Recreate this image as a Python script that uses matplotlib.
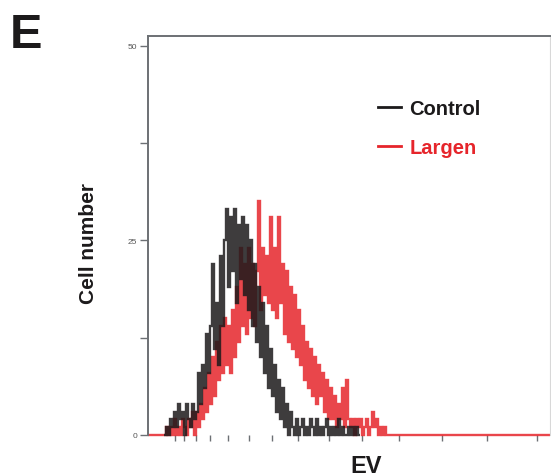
import numpy as np
import matplotlib
matplotlib.use("Agg")
import matplotlib.pyplot as plt
from matplotlib.lines import Line2D

plt.rcParams['font.family'] = ['Liberation Sans', 'DejaVu Sans']

# histogram channels (x in display channel units), bin width 2
bin_start = 164
bin_width = 2
x_min, x_max = 148, 550

control = [0, 1, 0, 2, 1, 3, 1, 4, 2, 3, 0, 4, 2, 1, 4, 2, 3,
           8, 4, 9, 6, 13, 8, 14,
           22, 11, 17, 9, 23, 14, 25,
           29, 19, 28, 21, 29, 17, 27, 20, 28, 18, 27,
           16, 25, 14, 22, 12, 19, 10, 17,
           8, 14, 6, 11, 5, 9, 3, 7, 2, 6, 1, 4, 0, 3,
           1, 0, 2, 0, 1, 2, 0, 1, 0, 2, 1, 0, 2, 0, 1, 0, 1, 2, 0, 1,
           0, 1, 0, 2, 0, 1, 0, 0, 1, 0, 1, 0, 1, 0]

largen = [0, 1, 0, 1, 0, 2, 0, 1, 0, 2, 1, 0, 2, 1, 3, 0,
          3, 1, 4, 2, 6, 3, 8, 4,
          10, 5, 12, 7, 14, 8, 15, 9, 14, 8, 16, 10,
          19, 12, 24, 14, 22, 13, 24, 15, 22, 14, 21,
          30, 16, 24, 18, 23, 17, 28, 16, 24, 15, 28, 17, 22,
          13, 21, 12, 19, 11, 18, 10, 16, 9,
          14, 7, 12, 6, 11, 5, 10, 4, 9, 5, 8, 3, 7, 2, 6,
          2, 5, 1, 4, 2, 6, 1, 7, 2,
          1, 2, 0, 2, 1, 2, 0, 1, 2, 0, 1, 3, 1, 2, 0, 1, 0, 1, 0, 0, 0]

x_ticks = [175, 184, 196, 210, 228, 249, 272, 298, 329, 362, 399, 442, 487, 537]
y_ticks = [0, 12.5, 25, 37.5, 50]
y_labels = ['0', '', '25', '', '50']

black = '#1c1a1b'
red = '#e6252b'
frame = '#6c7074'


def edges_for(values):
    return bin_start + bin_width * np.arange(len(values) + 1)


fig = plt.figure(figsize=(5.51, 4.77), dpi=100)
ax = fig.add_axes([148 / 551, 1 - 436 / 477, 402 / 551, (436 - 37.3) / 477])

# red trace padded with zeros so its baseline runs the whole axis
red_edges = np.concatenate([[x_min], edges_for(largen), [x_max]])
red_vals = np.concatenate([[0], largen, [0]])
ax.stairs(red_vals, red_edges, color=red, lw=1.7, alpha=0.85, clip_on=False, zorder=2)
ax.stairs(control, edges_for(control), color=black, lw=1.7, alpha=0.85, clip_on=False, zorder=3)

ax.set_xlim(x_min, x_max)
ax.set_ylim(0, 51.2)

for side in ['left', 'top']:
    ax.spines[side].set_color(frame)
    ax.spines[side].set_linewidth(1.4)
ax.spines['right'].set_color('#d8d8d8')
ax.spines['right'].set_linewidth(0.8)
ax.spines['bottom'].set_visible(False)

ax.set_xticks(x_ticks)
ax.set_xticklabels([])
ax.tick_params(axis='x', direction='out', length=4, width=1.0, color=frame)
ax.set_yticks(y_ticks)
ax.set_yticklabels(y_labels)
ax.tick_params(axis='y', direction='out', length=6, width=1.0, color=frame,
               labelsize=6, labelcolor='#555555', pad=2)

fig.text(88 / 551, 1 - 243 / 477, 'Cell number', rotation=90, fontsize=15,
         fontweight='bold', ha='center', va='center', color='#1c1a1b')
fig.text(366 / 551, 1 - 467 / 477, 'EV', fontsize=17, fontweight='bold',
         ha='center', va='center', color='#1c1a1b')
fig.text(10 / 551, 1 - 48 / 477, 'E', fontsize=35, fontweight='bold',
         ha='left', va='baseline', color='#1c1a1b')

handles = [Line2D([], [], color=black, lw=2), Line2D([], [], color=red, lw=2)]
leg = ax.legend(handles, ['Control', 'Largen'], loc='upper left',
                bbox_to_anchor=(378 / 551, 1 - 100 / 477), bbox_transform=fig.transFigure,
                frameon=False, prop={'size': 14.5, 'weight': 'bold'},
                handlelength=1.15, handletextpad=0.4, labelspacing=1.0,
                borderpad=0, borderaxespad=0)
leg.get_texts()[0].set_color(black)
leg.get_texts()[1].set_color(red)

fig.savefig('out.png', dpi=100)
